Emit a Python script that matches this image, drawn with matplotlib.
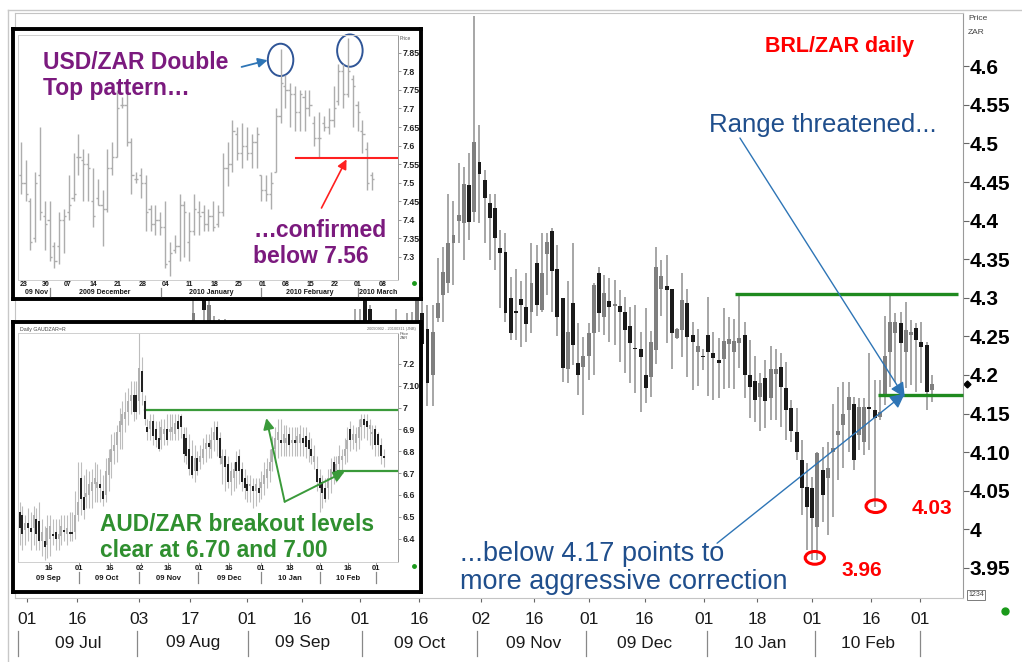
import matplotlib
matplotlib.use("Agg")
import matplotlib.pyplot as plt
from matplotlib.patches import Ellipse
from matplotlib.lines import Line2D
from matplotlib.transforms import blended_transform_factory
import numpy as np

plt.rcParams['font.family'] = ['Liberation Sans', 'DejaVu Sans']
NARROW = ['Liberation Sans Narrow', 'Liberation Sans', 'DejaVu Sans']

W, H = 1022, 662

# ---------------- BRL/ZAR daily (main chart), x = trading session ----------------
brl_session = [32, 34, 35, 36, 37, 38, 63, 64, 65, 66, 71, 73, 74, 75] + list(range(76, 175))
brl_open = [4.25, 4.31, 4.26, 4.22, 4.25, 4.21, 4.24, 4.25, 4.33, 4.285, 4.23, 4.25, 4.26, 4.24,
            4.28, 4.26, 4.20, 4.274, 4.303, 4.319, 4.371, 4.40, 4.397, 4.446,
            4.411, 4.476, 4.452, 4.423, 4.416, 4.364, 4.359, 4.300, 4.283, 4.298,
            4.288, 4.281, 4.345, 4.284, 4.357, 4.387, 4.337, 4.300, 4.208, 4.293,
            4.215, 4.210, 4.224, 4.254, 4.332, 4.275, 4.296, 4.289, 4.289, 4.282,
            4.263, 4.235, 4.233, 4.200, 4.198, 4.232, 4.311, 4.315, 4.311, 4.248,
            4.258, 4.293, 4.252, 4.230, 4.225, 4.252, 4.228, 4.220, 4.221, 4.240,
            4.230, 4.242, 4.252, 4.200, 4.192, 4.172, 4.196, 4.170, 4.201, 4.210,
            4.183, 4.157, 4.126, 4.090, 4.055, 4.053, 4.003, 4.077, 4.066, 4.100,
            4.122, 4.135, 4.154, 4.163, 4.122, 4.113, 4.158, 4.154, 4.146, 4.174,
            4.230, 4.255, 4.267, 4.230, 4.252, 4.261, 4.243, 4.239, 4.180]
brl_high = [4.30, 4.33, 4.31, 4.276, 4.273, 4.272, 4.285, 4.286, 4.36, 4.29, 4.285, 4.28, 4.282, 4.32,
            4.32, 4.29, 4.29, 4.351, 4.366, 4.435, 4.426, 4.474, 4.469, 4.487,
            4.665, 4.524, 4.465, 4.435, 4.435, 4.388, 4.384, 4.327, 4.337, 4.322,
            4.332, 4.371, 4.368, 4.384, 4.384, 4.390, 4.368, 4.300, 4.322, 4.371,
            4.267, 4.249, 4.267, 4.319, 4.340, 4.329, 4.325, 4.323, 4.310, 4.301,
            4.288, 4.290, 4.256, 4.287, 4.257, 4.366, 4.349, 4.355, 4.311, 4.261,
            4.332, 4.311, 4.269, 4.259, 4.234, 4.301, 4.256, 4.248, 4.287, 4.275,
            4.272, 4.303, 4.269, 4.245, 4.224, 4.203, 4.220, 4.237, 4.234, 4.228,
            4.217, 4.167, 4.157, 4.116, 4.086, 4.068, 4.100, 4.107, 4.113, 4.163,
            4.185, 4.191, 4.191, 4.172, 4.170, 4.170, 4.228, 4.193, 4.193, 4.277,
            4.303, 4.280, 4.282, 4.295, 4.271, 4.267, 4.269, 4.243, 4.200]
brl_low = [4.21, 4.22, 4.22, 4.18, 4.19, 4.17, 4.20, 4.21, 4.20, 4.20, 4.19, 4.20, 4.19, 4.20,
           4.21, 4.16, 4.16, 4.268, 4.269, 4.306, 4.316, 4.371, 4.349, 4.375,
           4.398, 4.397, 4.371, 4.349, 4.336, 4.287, 4.268, 4.245, 4.245, 4.236,
           4.243, 4.254, 4.277, 4.281, 4.303, 4.282, 4.250, 4.191, 4.189, 4.213,
           4.174, 4.148, 4.193, 4.200, 4.256, 4.252, 4.243, 4.239, 4.217, 4.202,
           4.189, 4.176, 4.152, 4.164, 4.172, 4.214, 4.277, 4.241, 4.208, 4.247,
           4.223, 4.198, 4.180, 4.186, 4.206, 4.173, 4.167, 4.170, 4.182, 4.183,
           4.182, 4.209, 4.170, 4.144, 4.139, 4.128, 4.131, 4.141, 4.141, 4.133,
           4.116, 4.113, 4.090, 4.018, 3.973, 3.960, 3.960, 4.010, 3.992, 4.016,
           4.064, 4.079, 4.100, 4.077, 4.103, 4.096, 4.103, 4.029, 4.141, 4.161,
           4.185, 4.191, 4.180, 4.183, 4.187, 4.178, 4.189, 4.154, 4.165]
brl_close = [4.28, 4.284, 4.29, 4.25, 4.21, 4.24, 4.26, 4.27, 4.24, 4.23, 4.26, 4.26, 4.24, 4.30,
             4.24, 4.19, 4.256, 4.293, 4.334, 4.371, 4.381, 4.407, 4.448, 4.398,
             4.502, 4.461, 4.429, 4.403, 4.377, 4.358, 4.280, 4.254, 4.280, 4.290,
             4.266, 4.319, 4.290, 4.332, 4.372, 4.335, 4.275, 4.209, 4.256, 4.239,
             4.200, 4.224, 4.254, 4.316, 4.280, 4.306, 4.288, 4.292, 4.282, 4.258,
             4.242, 4.233, 4.223, 4.183, 4.243, 4.340, 4.328, 4.310, 4.255, 4.260,
             4.297, 4.249, 4.243, 4.237, 4.223, 4.230, 4.222, 4.215, 4.244, 4.247,
             4.244, 4.248, 4.200, 4.184, 4.168, 4.190, 4.166, 4.208, 4.208, 4.185,
             4.154, 4.128, 4.100, 4.053, 4.029, 4.015, 4.099, 4.044, 4.080, 4.106,
             4.127, 4.150, 4.172, 4.090, 4.159, 4.159, 4.156, 4.144, 4.152, 4.224,
             4.269, 4.269, 4.241, 4.258, 4.256, 4.245, 4.236, 4.178, 4.188]

brl_ticks = [0.0, 9.6, 21.5, 31.3, 42.3, 52.9, 64.0, 75.4, 87.3, 97.5, 108.1, 118.8, 130.2, 140.4,
             151.0, 162.3, 171.7]
brl_tick_labels = ['01', '16', '03', '17', '01', '16', '01', '16', '02', '16', '01', '16', '01', '18',
                   '01', '16', '01']
brl_months = ['09 Jul', '09 Aug', '09 Sep', '09 Oct', '09 Nov', '09 Dec', '10 Jan', '10 Feb']
brl_month_pos = [9.9, 31.9, 53.0, 75.4, 97.5, 118.8, 140.9, 161.7]
brl_month_sep = [-1.75, 21.2, 42.4, 64.4, 86.5, 107.5, 130.7, 151.5, 171.7]
brl_yticks = [3.95, 4.0, 4.05, 4.10, 4.15, 4.2, 4.25, 4.3, 4.35, 4.4, 4.45, 4.5, 4.55, 4.6]
brl_ytick_labels = ['3.95', '4', '4.05', '4.10', '4.15', '4.2', '4.25', '4.3', '4.35', '4.4',
                    '4.45', '4.5', '4.55', '4.6']
brl_range_top, brl_range_top_from = 4.305, 136.2
brl_range_low, brl_range_low_from = 4.174, 163.6
brl_lows = [3.963, 4.030]
brl_low_sessions = [151.5, 163.2]
brl_last = 4.188

# ---------------- USD/ZAR inset (OHLC bars) ----------------
usd_open = [7.52, 7.50, 7.45, 7.35, 7.52, 7.41, 7.40, 7.33, 7.33, 7.40, 7.42, 7.46, 7.57, 7.56, 7.55,
            7.45, 7.46, 7.44, 7.43, 7.54, 7.57, 7.71, 7.71, 7.61, 7.51, 7.52, 7.50, 7.43, 7.39, 7.40,
            7.38, 7.29, 7.32, 7.33, 7.44, 7.34, 7.37, 7.42, 7.42, 7.39, 7.41, 7.39, 7.42, 7.54, 7.55,
            7.63, 7.58, 7.60, 7.58, 7.61, 7.52, 7.48, 7.47, 7.53, 7.68, 7.76, 7.75, 7.74, 7.69, 7.73,
            7.70, 7.66, 7.62, 7.66, 7.65, 7.67, 7.72, 7.80, 7.74, 7.78, 7.71, 7.64, 7.59, 7.52]
usd_high = [7.61, 7.56, 7.46, 7.53, 7.65, 7.45, 7.45, 7.34, 7.42, 7.43, 7.52, 7.58, 7.63, 7.59, 7.58,
            7.54, 7.51, 7.48, 7.59, 7.61, 7.75, 7.73, 7.75, 7.62, 7.53, 7.54, 7.52, 7.44, 7.44, 7.42,
            7.45, 7.34, 7.36, 7.47, 7.45, 7.42, 7.47, 7.45, 7.44, 7.43, 7.45, 7.44, 7.58, 7.61, 7.67,
            7.65, 7.66, 7.65, 7.63, 7.65, 7.52, 7.52, 7.53, 7.70, 7.86, 7.79, 7.77, 7.76, 7.75, 7.75,
            7.75, 7.68, 7.69, 7.68, 7.70, 7.76, 7.82, 7.82, 7.89, 7.79, 7.72, 7.67, 7.61, 7.53]
usd_low = [7.47, 7.45, 7.32, 7.34, 7.40, 7.32, 7.29, 7.27, 7.28, 7.31, 7.40, 7.45, 7.52, 7.45, 7.45,
           7.38, 7.44, 7.33, 7.42, 7.52, 7.57, 7.70, 7.60, 7.47, 7.50, 7.46, 7.37, 7.37, 7.36, 7.36,
           7.27, 7.25, 7.31, 7.29, 7.30, 7.29, 7.36, 7.36, 7.37, 7.37, 7.37, 7.38, 7.41, 7.49, 7.53,
           7.56, 7.54, 7.56, 7.54, 7.54, 7.45, 7.45, 7.43, 7.53, 7.66, 7.70, 7.65, 7.64, 7.64, 7.64,
           7.68, 7.60, 7.57, 7.64, 7.63, 7.65, 7.71, 7.70, 7.73, 7.65, 7.64, 7.58, 7.48, 7.48]
usd_close = [7.50, 7.47, 7.34, 7.50, 7.42, 7.39, 7.30, 7.29, 7.40, 7.41, 7.44, 7.47, 7.57, 7.55, 7.54,
             7.41, 7.44, 7.43, 7.54, 7.57, 7.70, 7.71, 7.61, 7.52, 7.51, 7.50, 7.42, 7.39, 7.40, 7.38,
             7.28, 7.31, 7.33, 7.44, 7.42, 7.37, 7.43, 7.41, 7.39, 7.41, 7.38, 7.42, 7.54, 7.55, 7.64,
             7.58, 7.60, 7.58, 7.61, 7.63, 7.48, 7.47, 7.50, 7.68, 7.77, 7.75, 7.74, 7.69, 7.74, 7.70,
             7.71, 7.62, 7.62, 7.65, 7.67, 7.70, 7.80, 7.74, 7.80, 7.76, 7.69, 7.63, 7.50, 7.51]
usd_ticks = [0.6, 5.3, 9.7, 15.2, 20.2, 25.3, 30.1, 35.1, 40.3, 45.2, 50.3, 55.1, 60.2, 65.2, 70.1, 75.3]
usd_tick_labels = ['23', '30', '07', '14', '21', '28', '04', '11', '18', '25', '01', '08', '15', '22',
                   '01', '08']
usd_months = ['09 Nov', '2009 December', '2010 January', '2010 February', '2010 March']
usd_month_pos = [3.3, 17.5, 39.6, 60.0, 74.2]
usd_month_sep = [6.0, 29.2, 50.0, 70.1]
usd_yticks = [7.3, 7.35, 7.4, 7.45, 7.5, 7.55, 7.6, 7.65, 7.7, 7.75, 7.8, 7.85]
usd_ytick_labels = ['7.3', '7.35', '7.4', '7.45', '7.5', '7.55', '7.6', '7.65', '7.7', '7.75', '7.8', '7.85']
usd_neckline = 7.567
usd_tops = [(54.0, 7.831), (68.4, 7.856)]

# ---------------- AUD/ZAR inset (candles) ----------------
aud_open = [6.52, 6.51, 6.44, 6.47, 6.45, 6.45, 6.49, 6.48, 6.39, 6.39,
            6.37, 6.40, 6.42, 6.43, 6.40, 6.41, 6.44, 6.42, 6.43, 6.43,
            6.43, 6.51, 6.68, 6.59, 6.59, 6.60, 6.62, 6.65, 6.63, 6.65,
            6.62, 6.60, 6.69, 6.75, 6.80, 6.83, 6.89, 6.92, 6.95, 6.98,
            7.03, 7.06, 7.06, 7.03, 7.17, 7.03, 6.91, 6.90, 6.94, 6.90,
            6.86, 6.85, 6.88, 6.90, 6.89, 6.89, 6.88, 6.94, 6.96, 6.88,
            6.86, 6.81, 6.78, 6.71, 6.77, 6.75, 6.77, 6.81, 6.84, 6.81,
            6.85, 6.91, 6.86, 6.74, 6.78, 6.74, 6.66, 6.68, 6.75, 6.78,
            6.72, 6.68, 6.65, 6.64, 6.64, 6.62, 6.63, 6.63, 6.65, 6.68,
            6.71, 6.75, 6.81, 6.85, 6.85, 6.84, 6.84, 6.88, 6.84, 6.85,
            6.84, 6.84, 6.86, 6.87, 6.85, 6.81, 6.75, 6.72, 6.68, 6.66,
            6.63, 6.63, 6.68, 6.75, 6.71, 6.74, 6.76, 6.78, 6.81, 6.90,
            6.85, 6.84, 6.86, 6.91, 6.95, 6.94, 6.90, 6.88, 6.90, 6.88,
            6.83, 6.78]
aud_high = [6.57, 6.55, 6.51, 6.54, 6.52, 6.55, 6.54, 6.57, 6.49, 6.46,
            6.51, 6.51, 6.49, 6.49, 6.49, 6.51, 6.51, 6.51, 6.52, 6.52,
            6.62, 6.75, 6.75, 6.69, 6.72, 6.71, 6.72, 6.75, 6.74, 6.72,
            6.69, 6.77, 6.81, 6.88, 6.89, 6.92, 7.00, 7.03, 7.07, 7.09,
            7.12, 7.12, 7.12, 7.34, 7.23, 7.06, 6.95, 6.97, 6.97, 6.94,
            6.94, 6.95, 6.95, 6.97, 6.97, 6.97, 6.97, 6.97, 6.97, 6.91,
            6.91, 6.88, 6.85, 6.83, 6.80, 6.83, 6.86, 6.88, 6.88, 6.91,
            6.94, 6.94, 6.89, 6.81, 6.81, 6.78, 6.75, 6.75, 6.80, 6.81,
            6.75, 6.72, 6.69, 6.69, 6.68, 6.68, 6.68, 6.71, 6.75, 6.77,
            6.81, 6.87, 6.91, 6.95, 6.95, 6.92, 6.92, 6.91, 6.91, 6.91,
            6.91, 6.92, 6.91, 6.91, 6.89, 6.86, 6.83, 6.78, 6.72, 6.69,
            6.68, 6.72, 6.77, 6.78, 6.78, 6.83, 6.81, 6.86, 6.91, 6.94,
            6.92, 6.91, 6.95, 6.97, 6.97, 6.97, 6.95, 6.92, 6.92, 6.89,
            6.86, 6.81]
aud_low = [6.37, 6.35, 6.37, 6.39, 6.35, 6.37, 6.35, 6.35, 6.32, 6.30,
           6.31, 6.32, 6.37, 6.35, 6.35, 6.37, 6.39, 6.37, 6.39, 6.39,
           6.40, 6.48, 6.51, 6.49, 6.54, 6.54, 6.54, 6.57, 6.57, 6.57,
           6.55, 6.57, 6.62, 6.68, 6.74, 6.75, 6.81, 6.81, 6.89, 6.92,
           6.97, 6.94, 6.95, 6.97, 7.01, 6.92, 6.85, 6.85, 6.83, 6.82,
           6.80, 6.81, 6.83, 6.83, 6.85, 6.85, 6.85, 6.85, 6.86, 6.75,
           6.74, 6.69, 6.68, 6.66, 6.69, 6.72, 6.74, 6.75, 6.77, 6.77,
           6.80, 6.78, 6.74, 6.65, 6.62, 6.63, 6.60, 6.62, 6.63, 6.65,
           6.62, 6.58, 6.57, 6.57, 6.54, 6.55, 6.57, 6.58, 6.60, 6.63,
           6.66, 6.71, 6.75, 6.77, 6.78, 6.78, 6.78, 6.78, 6.78, 6.78,
           6.78, 6.78, 6.78, 6.77, 6.75, 6.74, 6.72, 6.62, 6.52, 6.54,
           6.57, 6.58, 6.61, 6.65, 6.66, 6.68, 6.71, 6.74, 6.75, 6.80,
           6.81, 6.80, 6.81, 6.85, 6.86, 6.85, 6.83, 6.81, 6.78, 6.78,
           6.74, 6.73]
aud_close = [6.45, 6.42, 6.47, 6.45, 6.43, 6.51, 6.42, 6.39, 6.43, 6.36,
             6.45, 6.46, 6.41, 6.40, 6.42, 6.46, 6.43, 6.45, 6.42, 6.42,
             6.51, 6.57, 6.58, 6.53, 6.61, 6.65, 6.66, 6.68, 6.66, 6.63,
             6.58, 6.71, 6.77, 6.81, 6.83, 6.89, 6.94, 6.97, 6.98, 7.03,
             7.06, 6.98, 6.98, 7.18, 7.07, 6.95, 6.89, 6.94, 6.87, 6.85,
             6.81, 6.91, 6.90, 6.85, 6.90, 6.91, 6.93, 6.90, 6.91, 6.79,
             6.78, 6.72, 6.69, 6.77, 6.71, 6.78, 6.81, 6.84, 6.82, 6.85,
             6.89, 6.85, 6.77, 6.78, 6.73, 6.66, 6.71, 6.72, 6.71, 6.71,
             6.66, 6.63, 6.62, 6.65, 6.62, 6.65, 6.61, 6.66, 6.69, 6.72,
             6.75, 6.81, 6.86, 6.89, 6.84, 6.88, 6.86, 6.83, 6.85, 6.84,
             6.87, 6.88, 6.84, 6.82, 6.81, 6.78, 6.78, 6.66, 6.63, 6.61,
             6.58, 6.68, 6.72, 6.69, 6.74, 6.78, 6.78, 6.81, 6.85, 6.85,
             6.88, 6.88, 6.91, 6.95, 6.92, 6.91, 6.92, 6.89, 6.83, 6.83,
             6.78, 6.77]
aud_ticks = [10.6, 21.2, 32.4, 43.5, 53.4, 64.4, 75.3, 87.0, 97.2, 108.2, 118.2, 128.4]
aud_tick_labels = ['16', '01', '16', '02', '16', '01', '16', '01', '18', '01', '16', '01']
aud_months = ['09 Sep', '09 Oct', '09 Nov', '09 Dec', '10 Jan', '10 Feb']
aud_month_pos = [10.2, 31.4, 53.4, 75.3, 97.2, 118.2]
aud_month_sep = [21.2, 42.9, 64.2, 87.0, 108.0, 128.1]
aud_yticks = [6.4, 6.5, 6.6, 6.7, 6.8, 6.9, 7.0, 7.1, 7.2]
aud_ytick_labels = ['6.4', '6.5', '6.6', '6.7', '6.8', '6.9', '7', '7.10', '7.2']
aud_levels = [6.99, 6.71]
aud_level_from = [45.0, 114.0]


fig = plt.figure(figsize=(W / 100, H / 100), dpi=100)


def px_axes(l, t, r, b):
    return fig.add_axes([l / W, 1 - b / H, (r - l) / W, (b - t) / H])


def draw_candles(ax, x, o, h, l, c, width, wick_color, up_color, down_color, wick_lw, min_body):
    x, o, h, l, c = (np.asarray(v, dtype=float) for v in (x, o, h, l, c))
    ax.vlines(x, l, h, colors=wick_color, linewidth=wick_lw, zorder=2)
    up = c >= o
    bottom = np.minimum(o, c)
    height = np.maximum(np.abs(c - o), min_body)
    ax.bar(x[up], height[up], width, bottom[up], color=up_color, linewidth=0, zorder=3)
    ax.bar(x[~up], height[~up], width, bottom[~up], color=down_color, linewidth=0, zorder=3)


def draw_bars(ax, x, o, h, l, c, tick, color, lw):
    x = np.asarray(x, dtype=float)
    ax.vlines(x, l, h, colors=color, linewidth=lw)
    ax.hlines(o, x - tick, x, colors=color, linewidth=lw)
    ax.hlines(c, x, x + tick, colors=color, linewidth=lw)


def date_rows(ax, ticks, labels, months, month_pos, seps, y1, y2, sep_y, fs, family, weight):
    tr = blended_transform_factory(ax.transData, fig.transFigure)
    for p, t in zip(ticks, labels):
        ax.text(p, 1 - y1 / H, t, transform=tr, ha='center', va='center', fontsize=fs,
                family=family, fontweight=weight, color='#1a1a1a')
    for p, t in zip(month_pos, months):
        ax.text(p, 1 - y2 / H, t, transform=tr, ha='center', va='center', fontsize=fs,
                family=family, fontweight=weight, color='#1a1a1a')
    for s in seps:
        ax.plot([s, s], [1 - sep_y[0] / H, 1 - sep_y[1] / H], transform=tr, color='#888888',
                lw=0.9, clip_on=False)


# outer light frame
fig.add_artist(Line2D([8 / W, 1], [1 - 10 / H] * 2, color='#c8c8c8', lw=1))
fig.add_artist(Line2D([8 / W] * 2, [0, 1 - 10 / H], color='#c8c8c8', lw=1))

# ---------------- main chart ----------------
ax = px_axes(15, 13, 963, 598)
ax.set_xlim(-2.33, 180.0)
ax.set_ylim(3.911, 4.669)
draw_candles(ax, brl_session, brl_open, brl_high, brl_low, brl_close, 0.75,
             '#8e8e8e', '#7f7f7f', '#1a1a1a', 1.1, 0.002)
for s in ax.spines.values():
    s.set_color('#c4c4c4')
    s.set_linewidth(0.8)
ax.spines['right'].set_color('#9a9a9a')
ax.yaxis.tick_right()
ax.set_yticks(brl_yticks)
ax.set_yticklabels(brl_ytick_labels, fontsize=15, fontweight='bold')
ax.tick_params(axis='y', length=4, width=0.8, color='#666666', pad=1)
ax.set_xticks(brl_ticks)
ax.tick_params(axis='x', length=3, width=0.8, color='#666666', labelbottom=False)
date_rows(ax, brl_ticks, brl_tick_labels, brl_months, brl_month_pos, brl_month_sep,
          620, 643, (631, 656), 12.5, NARROW, 'normal')

ax.plot([brl_range_top_from, 179.0], [brl_range_top] * 2, color='#1f8a1f', lw=2.4,
        solid_capstyle='butt', zorder=4)
ax.plot([brl_range_low_from, 180.0], [brl_range_low] * 2, color='#1f8a1f', lw=2.4,
        solid_capstyle='butt', zorder=4, clip_on=False)
for xs, lo in zip(brl_low_sessions, brl_lows):
    ax.add_patch(Ellipse((xs, lo), 3.7, 0.0165, fill=False, ec='red', lw=2.2, zorder=5))
ax.text(160.6, 3.947, '3.96', color='red', fontsize=15, fontweight='bold', ha='center', va='center')
ax.text(174.0, 4.027, '4.03', color='red', fontsize=15, fontweight='bold', ha='center', va='center')
ax.text(156.3, 4.625, 'BRL/ZAR daily', color='red', fontsize=15.5, fontweight='bold',
        ha='center', va='center')
ax.text(153.0, 4.524, 'Range threatened...', color='#1f4e8c', fontsize=18.5, ha='center',
        va='center')
ax.text(83.3, 3.950, '...below 4.17 points to\nmore aggressive correction', color='#1f4e8c',
        fontsize=19.5, ha='left', va='center', linespacing=1.1)
arrow_kw = dict(arrowstyle='-|>', color='#2e75b6', lw=1, mutation_scale=22, shrinkA=0, shrinkB=0)
ax.annotate('', xy=(168.8, 4.171), xytext=(137.1, 4.507), arrowprops=arrow_kw, zorder=6)
ax.annotate('', xy=(168.8, 4.176), xytext=(132.7, 3.982), arrowprops=arrow_kw, zorder=6)
tr_last = blended_transform_factory(ax.transAxes, ax.transData)
ax.plot([1.004], [brl_last], marker='D', ms=3.5, color='black', transform=tr_last, clip_on=False)

fig.text(968 / W, 1 - 19 / H, 'Price', fontsize=6, color='#444444', va='center')
fig.text(968 / W, 1 - 33 / H, 'ZAR', fontsize=6, color='#444444', va='center')
fig.text(976 / W, 1 - 595 / H, '1234', fontsize=5, ha='center', va='center', color='#444444',
         bbox=dict(boxstyle='square,pad=0.15', fc='white', ec='#666666', lw=0.6))
fig.add_artist(Line2D([1005 / W], [1 - 611 / H], marker='o', ms=5, color='#1a9a1a', lw=0))

# ---------------- USD/ZAR inset ----------------
f1 = px_axes(13, 29, 421, 299)
f1.set_xticks([])
f1.set_yticks([])
for s in f1.spines.values():
    s.set_linewidth(2.8)
    s.set_color('black')

a1 = px_axes(18, 35, 398, 280)
a1.set_xlim(-0.56, 78.4)
a1.set_ylim(7.238, 7.898)
draw_bars(a1, np.arange(len(usd_open)), usd_open, usd_high, usd_low, usd_close, 0.45, '#adadad', 1.0)
for s in a1.spines.values():
    s.set_color('#cfcfcf')
    s.set_linewidth(0.7)
a1.spines['right'].set_color('#999999')
a1.yaxis.tick_right()
a1.set_yticks(usd_yticks)
a1.set_yticklabels(usd_ytick_labels, fontsize=6.3, fontweight='bold', color='#222222')
a1.tick_params(axis='y', length=2, width=0.6, pad=1, color='#888888')
a1.set_xticks(usd_ticks)
a1.tick_params(axis='x', length=2, width=0.6, color='#888888', labelbottom=False)
date_rows(a1, usd_ticks, usd_tick_labels, usd_months, usd_month_pos, usd_month_sep,
          284, 292, (288, 296), 5, ['Liberation Sans'], 'bold')
a1.text(4.6, 7.788, 'USD/ZAR Double\nTop pattern…', color='#7b1a7e', fontsize=16.5,
        fontweight='bold', ha='left', va='center', linespacing=1.15)
a1.text(48.3, 7.337, '…confirmed\nbelow 7.56', color='#7b1a7e', fontsize=16.5,
        fontweight='bold', ha='left', va='center', linespacing=1.15)
a1.plot([57.3, 78.1], [usd_neckline] * 2, color='#ff2020', lw=1.5, clip_on=False)
for cx, cy in usd_tops:
    a1.add_patch(Ellipse((cx, cy), 5.3, 0.087, fill=False, ec='#2f5597', lw=1.4, clip_on=False))
a1.annotate('', xy=(51.3, 7.830), xytext=(45.9, 7.812),
            arrowprops=dict(arrowstyle='-|>', color='#2e75b6', lw=1.3, mutation_scale=14,
                            shrinkA=0, shrinkB=0))
a1.annotate('', xy=(67.7, 7.563), xytext=(62.5, 7.432),
            arrowprops=dict(arrowstyle='-|>', color='#ff2020', lw=1.2, mutation_scale=14,
                            shrinkA=0, shrinkB=0))
fig.text(400 / W, 1 - 38 / H, 'Price', fontsize=3.5, color='#555555', va='center')
fig.add_artist(Line2D([414 / W], [1 - 283 / H], marker='o', ms=2.5, color='#1a9a1a', lw=0))

# ---------------- AUD/ZAR inset ----------------
f2 = px_axes(13, 322, 421, 592)
f2.set_xticks([])
f2.set_yticks([])
for s in f2.spines.values():
    s.set_linewidth(2.8)
    s.set_color('black')

a2 = px_axes(18, 333, 398, 562)
a2.set_xlim(-0.6, 136.2)
a2.set_ylim(6.293, 7.342)
draw_candles(a2, np.arange(len(aud_open)), aud_open, aud_high, aud_low, aud_close, 0.7,
             '#bdbdbd', '#b0b0b0', '#222222', 0.8, 0.004)
for s in a2.spines.values():
    s.set_color('#cfcfcf')
    s.set_linewidth(0.7)
a2.spines['right'].set_color('#999999')
a2.yaxis.tick_right()
a2.set_yticks(aud_yticks)
a2.set_yticklabels(aud_ytick_labels, fontsize=6.3, fontweight='bold', color='#222222')
a2.tick_params(axis='y', length=2, width=0.6, pad=1, color='#888888')
a2.set_xticks(aud_ticks)
a2.tick_params(axis='x', length=2, width=0.6, color='#888888', labelbottom=False)
date_rows(a2, aud_ticks, aud_tick_labels, aud_months, aud_month_pos, aud_month_sep,
          568, 578, (572, 583), 5.5, ['Liberation Sans'], 'bold')
for lvl, start in zip(aud_levels, aud_level_from):
    a2.plot([start, 136.2], [lvl, lvl], color='#3a9a3a', lw=1.6)
green_kw = dict(arrowstyle='-|>', color='#3a9a3a', lw=1.4, mutation_scale=16, shrinkA=0, shrinkB=0)
a2.annotate('', xy=(88.8, 6.952), xytext=(95.4, 6.569), arrowprops=green_kw)
a2.annotate('', xy=(117.0, 6.707), xytext=(95.4, 6.569), arrowprops=green_kw)
a2.text(28.8, 6.405, 'AUD/ZAR breakout levels\nclear at 6.70 and 7.00', color='#2f8f2f',
        fontsize=16.4, fontweight='bold', ha='left', va='center', linespacing=1.17)
fig.text(20 / W, 1 - 329 / H, 'Daily GAUDZAR=R', fontsize=3.8, color='#444444', va='center')
fig.text(416 / W, 1 - 329 / H, '20090902 - 20100311 (JNB)', fontsize=2.8, color='#666666',
         va='center', ha='right')
fig.text(400 / W, 1 - 336 / H, 'Price\nZAR', fontsize=3, color='#555555', va='center')
fig.add_artist(Line2D([414 / W], [1 - 566 / H], marker='o', ms=2.5, color='#1a9a1a', lw=0))

fig.savefig('out.png', dpi=100)
